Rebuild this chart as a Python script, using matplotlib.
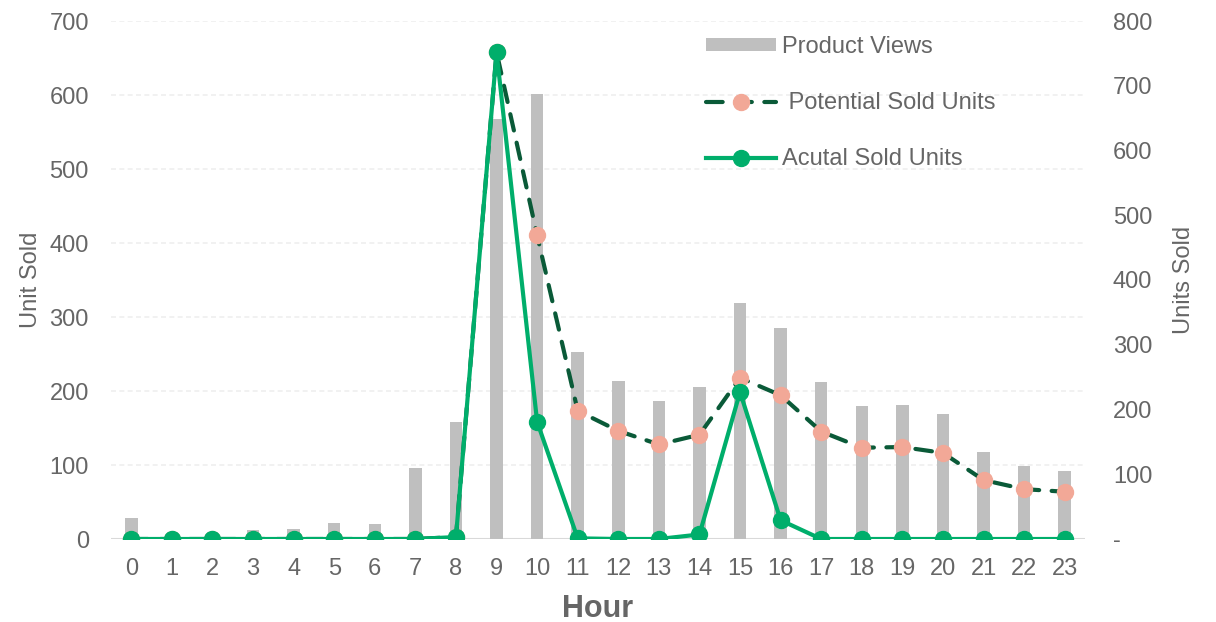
import matplotlib
matplotlib.use("Agg")
import matplotlib.pyplot as plt
from matplotlib.ticker import FuncFormatter, MultipleLocator
from matplotlib.lines import Line2D
from matplotlib.patches import Patch

plt.rcParams['font.family'] = ['Liberation Sans', 'DejaVu Sans']

# Hourly data
hours = list(range(24))
hour_labels = [str(h) for h in hours]
product_views = [28, 2, 2, 12, 14, 21, 20, 96, 158, 567, 601, 253,
                 214, 186, 206, 319, 285, 212, 180, 181, 169, 118, 99, 92]
potential_sold = [0, 0, 0, 0, 0, 0, 0, 0, 3, 752, 469, 198,
                  167, 146, 161, 249, 222, 166, 141, 142, 133, 91, 77, 73]
actual_sold = [0, 0, 0, 0, 0, 0, 0, 0, 3, 752, 181, 1,
               0, 0, 7, 227, 29, 0, 0, 0, 0, 0, 0, 0]

TEXT = '#666666'
BAR = '#BFBFBF'
DARK_GREEN = '#0A5A38'
SALMON = '#F2A897'
GREEN = '#00AE6B'

fig = plt.figure(figsize=(12.16, 6.22), dpi=100)
ax = fig.add_axes([111 / 1216, 1 - 539 / 622, (1085 - 111) / 1216, (539 - 21) / 622])
ax2 = ax.twinx()

# Bars: product views on the primary axis
ax.bar(hours, product_views, width=0.31, color=BAR, zorder=2)
ax.set_xlim(-0.5, 23.5)
ax.set_ylim(0, 700)
ax.yaxis.set_major_locator(MultipleLocator(100))
for y in range(100, 701, 100):
    ax.axhline(y, color='#EFEFEF', lw=1.2, ls=(0, (3, 2)), zorder=0)
ax.axhline(0, color='#D9D9D9', lw=1.5, zorder=1)

# Lines: sold units on the secondary axis
ax2.plot(hours, potential_sold, color=DARK_GREEN, lw=3, ls=(0, (4, 3)),
         dash_capstyle='round', marker='o', markersize=11.5,
         markerfacecolor=SALMON, markeredgecolor=SALMON, zorder=3)
ax2.plot(hours, actual_sold, color=GREEN, lw=3, marker='o', markersize=11.5,
         markerfacecolor=GREEN, markeredgecolor=GREEN, zorder=4)
ax2.set_ylim(0, 800)
ax2.yaxis.set_major_locator(MultipleLocator(100))
ax2.yaxis.set_major_formatter(FuncFormatter(lambda v, p: '-' if v == 0 else f'{v:.0f}'))

for a in (ax, ax2):
    for s in a.spines.values():
        s.set_visible(False)

ax.set_xticks(hours)
ax.set_xticklabels(hour_labels)
ax.tick_params(axis='x', length=0, pad=14, labelsize=17, labelcolor=TEXT)
ax.tick_params(axis='y', length=0, pad=16, labelsize=17, labelcolor=TEXT)
ax2.tick_params(axis='y', length=0, pad=20, labelsize=17, labelcolor=TEXT)
for t in ax2.get_yticklabels():
    t.set_horizontalalignment('left')

ax.set_ylabel('Unit Sold', fontsize=17, color=TEXT, labelpad=5)
ax2.set_ylabel('Units Sold', fontsize=17, color=TEXT, labelpad=15)
ax.set_xlabel('Hour', fontsize=22, fontweight='bold', color=TEXT, labelpad=10)

handles = [
    Patch(facecolor=BAR, edgecolor='none'),
    Line2D([], [], color=DARK_GREEN, lw=3, ls=(0, (4, 3)), dash_capstyle='round',
           marker='o', markersize=11.5, markerfacecolor=SALMON, markeredgecolor=SALMON),
    Line2D([], [], color=GREEN, lw=3, marker='o', markersize=11.5,
           markerfacecolor=GREEN, markeredgecolor=GREEN),
]
labels = ['Product Views', ' Potential Sold Units', 'Acutal Sold Units']
leg = ax2.legend(handles, labels, loc='upper left',
                 bbox_to_anchor=(706 / 1216, 1 - 36 / 622), bbox_transform=fig.transFigure,
                 frameon=False, fontsize=17, handlelength=2.95, handleheight=0.5,
                 handletextpad=0.25, labelspacing=1.45, borderpad=0, borderaxespad=0)
for t in leg.get_texts():
    t.set_color(TEXT)

fig.savefig('out.png', dpi=100)
